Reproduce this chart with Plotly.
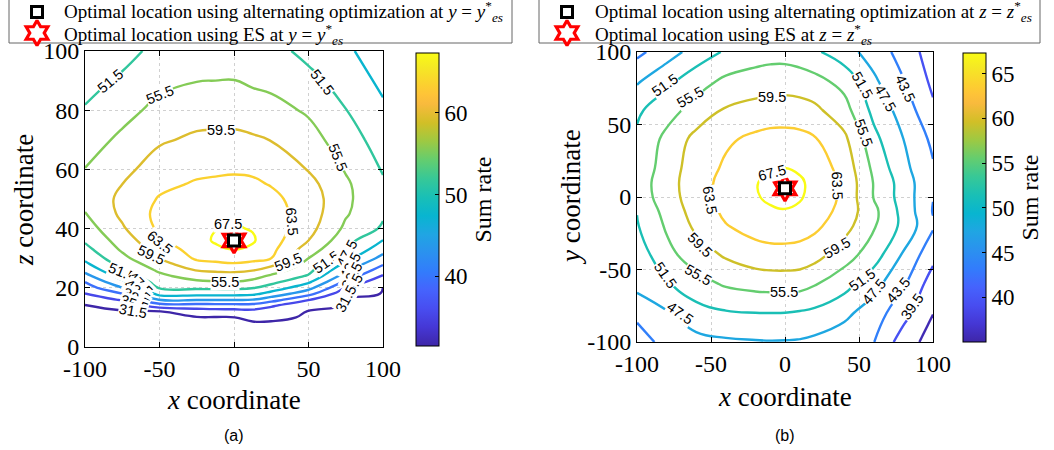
import numpy as np
import plotly.graph_objects as go

W, H = 1054, 450

# ---------------- panel (a): sum rate over the x-z plane at y = y*_es ----------------
x_a = [-100, -75, -50, -25, -12.5, 0, 12.5, 25, 50, 75, 100]
z_a = [0, 5, 8, 10, 12, 14, 16, 18, 20, 22, 24, 26, 28, 30, 33, 36, 40, 45, 50, 55, 60, 70, 80, 90, 100]
# one list per x position, running up the z axis
rate_a_cols = [
    [31.2, 31.22, 31.25, 31.28, 31.3, 31.35, 32.95, 35.4, 37.5, 39.6, 42.3, 44.6, 46.7, 48.3, 50.3, 52.0, 53.5, 55.4, 56.2, 56.3, 55.6, 53.7, 51.8, 50.2, 48.5],
    [31.2, 31.22, 31.25, 31.28, 31.32, 32.4, 36.0, 39.5, 43.5, 46.7, 49.2, 51.5, 52.9, 54.4, 56.1, 57.3, 59.0, 60.3, 60.5, 59.5, 58.4, 56.3, 54.2, 52.1, 50.2],
    [31.2, 31.22, 31.25, 31.3, 31.38, 37.7, 43.8, 48.9, 51.85, 53.25, 54.65, 56.2, 57.8, 59.5, 61.2, 62.9, 64.2, 64.6, 63.8, 62.6, 61.4, 59.0, 56.6, 54.5, 52.6],
    [31.2, 31.22, 31.25, 31.32, 33.3, 37.96, 43.8, 48.9, 52.2, 54.8, 57.3, 59.75, 62.25, 64.1, 65.3, 66.2, 66.5, 66.0, 65.0, 63.9, 62.65, 60.2, 57.8, 55.4, 53.8],
    [31.2, 31.22, 31.25, 31.35, 33.8, 38.1, 43.8, 48.9, 52.24, 55.2, 57.7, 60.2, 62.8, 64.6, 66.8, 67.9, 67.4, 66.4, 65.5, 64.1, 62.93, 60.35, 57.9, 55.5, 54.0],
    [31.2, 31.22, 31.25, 31.45, 34.0, 38.1, 43.8, 48.9, 52.3, 55.4, 57.9, 60.47, 63.2, 65.0, 67.6, 68.6, 67.8, 66.8, 65.5, 64.3, 63.08, 60.4, 57.94, 55.55, 54.2],
    [31.2, 31.22, 31.28, 32.0, 34.4, 38.0, 43.5, 48.5, 51.77, 54.4, 57.1, 59.8, 62.6, 64.5, 66.8, 67.9, 67.3, 66.3, 65.2, 64.1, 62.9, 60.0, 57.35, 54.9, 53.4],
    [31.2, 31.22, 31.28, 31.9, 33.8, 36.0, 41.3, 46.1, 49.8, 52.6, 54.9, 57.7, 60.6, 63.5, 64.6, 65.3, 65.6, 65.2, 64.4, 63.3, 62.0, 59.4, 56.9, 54.4, 52.8],
    [31.2, 31.22, 31.25, 31.3, 31.35, 32.8, 35.8, 40.9, 44.8, 48.2, 51.1, 52.7, 54.1, 55.5, 57.5, 59.5, 60.9, 61.6, 61.7, 60.8, 59.3, 57.1, 54.95, 52.6, 50.4],
    [31.2, 31.22, 31.25, 31.28, 31.3, 31.32, 31.4, 32.8, 35.4, 38.7, 41.7, 44.4, 46.6, 48.8, 51.7, 53.0, 54.7, 55.9, 56.3, 56.1, 55.2, 53.4, 51.6, 49.9, 48.2],
    [31.2, 31.22, 31.25, 31.28, 31.3, 31.32, 31.35, 31.38, 31.42, 32.8, 35.2, 37.5, 39.85, 42.2, 45.0, 47.4, 50.97, 52.0, 52.2, 52.0, 51.2, 49.7, 48.2, 46.6, 45.3],
]
cbar_a = [31.5, 67.3]
opt_a = (0, 36)
# contour labels: text, x, z, rotation (deg, clockwise)
labels_a = [
    ("51.5", -83, 90, -40), ("55.5", -50, 85, -22), ("51.5", 59, 89.5, 52),
    ("59.5", -9, 73.3, 0), ("55.5", 70, 64, 68), ("63.5", 38.7, 42.5, 85),
    ("67.5", -4, 41.5, 0), ("63.5", -50, 35.5, 40), ("59.5", -55.5, 31, 25),
    ("59.5", 36.5, 28.8, -22), ("51.5", -75.5, 25.3, 22), ("55.5", -6, 22.1, 0),
    ("51.5", 62, 28.8, -35),
    ("47.5", -63, 21.2, 45), ("43.5", -65, 18.8, 40), ("39.5", -66, 16.6, 30),
    ("35.5", -67, 14.4, 20), ("31.5", -68, 12.3, 10),
    ("47.5", 75.5, 31.5, -62), ("43.5", 78, 27.5, -62), ("39.5", 79, 24, -62),
    ("35.5", 79.5, 20.3, -62), ("31.5", 75, 16.2, -62),
]

# ---------------- panel (b): sum rate over the x-y plane at z = z*_es ----------------
x_b = [-100, -80, -60, -40, -20, -10, 0, 10, 20, 40, 60, 80, 100]
y_b = [-100, -80, -60, -40, -20, -10, 0, 10, 20, 40, 60, 80, 100]
# one list per y position, running along the x axis
rate_b_rows = [
    [41.5, 44.9, 46.2, 46.9, 47.2, 47.3, 47.25, 47.1, 46.6, 45.3, 43.6, 37.5, 33.8],
    [44.5, 47.1, 50.0, 51.1, 51.45, 51.5, 51.45, 51.1, 50.6, 48.5, 45.4, 41.0, 35.6],
    [48.8, 51.0, 53.9, 56.0, 56.9, 57.1, 57.2, 57.0, 55.8, 53.0, 48.9, 44.0, 37.5],
    [49.2, 54.3, 57.5, 60.0, 61.8, 62.2, 62.2, 62.0, 61.0, 57.3, 53.4, 47.0, 40.7],
    [51.2, 56.0, 60.3, 63.3, 65.0, 65.4, 65.5, 65.2, 64.4, 61.05, 55.9, 50.45, 44.0],
    [51.6, 56.9, 61.1, 64.3, 66.4, 67.0, 67.3, 66.9, 65.6, 62.1, 56.5, 50.2, 43.3],
    [53.0, 57.7, 61.6, 64.6, 67.2, 68.1, 68.4, 67.8, 66.5, 62.6, 55.3, 49.8, 43.6],
    [53.2, 57.9, 61.7, 64.8, 67.3, 68.3, 68.7, 68.0, 66.5, 62.6, 55.3, 49.7, 43.8],
    [52.3, 57.6, 61.4, 64.1, 66.3, 67.1, 67.5, 67.0, 65.8, 62.0, 54.6, 48.6, 43.9],
    [52.2, 56.5, 60.7, 62.9, 64.3, 64.7, 64.8, 64.6, 63.8, 60.4, 52.6, 47.5, 42.6],
    [50.8, 53.9, 57.0, 59.9, 61.0, 61.5, 61.5, 61.2, 60.4, 57.0, 50.4, 45.8, 40.2],
    [47.0, 50.4, 53.8, 56.3, 57.2, 57.5, 57.6, 57.3, 56.7, 54.2, 48.2, 43.7, 38.6],
    [42.5, 45.7, 49.1, 52.0, 53.6, 54.0, 54.0, 53.4, 52.2, 49.1, 45.8, 41.9, 37.5],
]
cbar_b = [35.0, 67.3]
opt_b = (0, 6)
labels_b = [
    ("51.5", -81, 77, -35), ("55.5", -64, 69, -30), ("59.5", -9, 69.2, 0),
    ("51.5", 52, 77, 60), ("47.5", 67.6, 68, 60), ("43.5", 81, 75, 65),
    ("55.5", 53, 44, 70), ("63.5", 35, 8, 88), ("67.5", -9, 16.5, -15),
    ("63.5", -50.7, -2, 80), ("59.5", -57.4, -33, 45), ("59.5", 35, -35.4, -30),
    ("55.5", -58.6, -54, 30), ("51.5", -81, -54, 55), ("55.5", -1, -65.3, 0),
    ("51.5", 52, -57, -35), ("47.5", 60, -65.5, -50), ("43.5", 76.6, -64, -50),
    ("39.5", 85.6, -75.6, -55), ("47.5", -71, -80, 35),
]

levels = [31.5, 35.5, 39.5, 43.5, 47.5, 51.5, 55.5, 59.5, 63.5, 67.5]
tick_xy = [-100, -50, 0, 50, 100]
tick_xy_text = ["-100", "-50", "0", "50", "100"]
tick_a_z = [0, 20, 40, 60, 80, 100]
cbar_ticks_a = [40, 50, 60]
cbar_ticks_b = [40, 45, 50, 55, 60, 65]

# parula colour map, sampled at 64-step indices
parula_idx = [0, 4, 8, 12, 16, 20, 24, 28, 32, 36, 40, 44, 48, 52, 54, 56, 60, 63]
parula_rgb = [
    (62, 38, 168), (69, 55, 213), (72, 77, 240), (69, 99, 253), (50, 124, 252), (43, 145, 239),
    (32, 165, 227), (8, 181, 208), (25, 191, 182), (55, 200, 151), (100, 205, 111), (157, 201, 67),
    (209, 191, 39), (248, 186, 61), (254, 195, 56), (252, 207, 48), (245, 233, 36), (249, 251, 21),
]
parula = [[i / 63, "rgb(%d,%d,%d)" % c] for i, c in zip(parula_idx, parula_rgb)]


def level_color(v, lo, hi):
    t = min(max((v - lo) / (hi - lo), 0.0), 1.0) * 63
    pos = np.array(parula_idx, dtype=float)
    rgb = np.array(parula_rgb, dtype=float)
    r, g, b = (np.interp(t, pos, rgb[:, k]) for k in range(3))
    return "rgb(%d,%d,%d)" % (round(r), round(g), round(b))


SERIF = "Liberation Serif"
SANS = "Liberation Sans"


def fx(p):
    return p / W


def fy(p):
    return 1 - p / H


fig = go.Figure()

z_grid_a = np.array(rate_a_cols).T
z_grid_b = np.array(rate_b_rows)
cb_thick = 23


def add_panel(xs, ys, zz, cb, xa, ya, cb_left, cb_top, cb_bot, cb_ticks):
    # transparent heatmap only supplies the continuous colour bar
    fig.add_trace(go.Heatmap(
        x=xs, y=ys, z=zz, zmin=cb[0], zmax=cb[1], colorscale=parula, opacity=0,
        hoverinfo="skip", xaxis=xa, yaxis=ya,
        colorbar=dict(
            x=fx(cb_left), xanchor="left", xpad=0, ypad=0,
            y=fy((cb_top + cb_bot) / 2), yanchor="middle",
            len=(cb_bot - cb_top) / H, lenmode="fraction",
            thickness=cb_thick, thicknessmode="pixels",
            outlinewidth=1, outlinecolor="black",
            tickvals=cb_ticks, ticks="inside", ticklen=4, tickcolor="black",
            tickfont=dict(family=SERIF, size=23, color="black"),
            title=dict(text="Sum rate", side="right", font=dict(family=SERIF, size=24, color="black")),
        ),
    ))
    # one trace per level so each line takes the colour of its value on the bar
    for lev in levels:
        fig.add_trace(go.Contour(
            x=xs, y=ys, z=zz, showscale=False, autocontour=False,
            contours=dict(coloring="none", showlabels=False, start=lev, end=lev, size=1),
            line=dict(width=2.4, smoothing=1.3, color=level_color(lev, cb[0], cb[1])),
            hoverinfo="skip", xaxis=xa, yaxis=ya,
        ))


add_panel(x_a, z_a, z_grid_a, cbar_a, "x", "y", 416, 53, 346, cbar_ticks_a)
add_panel(x_b, y_b, z_grid_b, cbar_b, "x2", "y2", 963, 53, 342, cbar_ticks_b)

# optimal locations: ES (hexagram) under alternating optimisation (square)
for (ox, oy), xa, ya in [(opt_a, "x", "y"), (opt_b, "x2", "y2")]:
    fig.add_trace(go.Scatter(x=[ox], y=[oy], mode="markers", xaxis=xa, yaxis=ya, hoverinfo="skip",
                             marker=dict(symbol="hexagram", size=19, color="white",
                                         line=dict(color="red", width=3.2))))
    fig.add_trace(go.Scatter(x=[ox], y=[oy], mode="markers", xaxis=xa, yaxis=ya, hoverinfo="skip",
                             marker=dict(symbol="square", size=11, color="white",
                                         line=dict(color="black", width=3))))

# legend markers on a full-page pixel overlay
for lx in (37, 567):
    fig.add_trace(go.Scatter(x=[lx], y=[33], mode="markers", xaxis="x3", yaxis="y3", hoverinfo="skip",
                             marker=dict(symbol="hexagram", size=19, color="white",
                                         line=dict(color="red", width=3.2))))
    fig.add_trace(go.Scatter(x=[lx], y=[12], mode="markers", xaxis="x3", yaxis="y3", hoverinfo="skip",
                             marker=dict(symbol="square", size=11, color="white",
                                         line=dict(color="black", width=3))))

axis_common = dict(
    showline=True, linecolor="black", linewidth=1, mirror="ticks",
    ticks="inside", ticklen=5, tickcolor="black",
    showgrid=True, gridcolor="rgba(150,150,150,0.45)", griddash="dot", gridwidth=1,
    zeroline=False, tickfont=dict(family=SERIF, size=24, color="black"),
)

fig.update_layout(
    width=W, height=H, margin=dict(l=0, r=0, t=0, b=0, autoexpand=False),
    paper_bgcolor="white", plot_bgcolor="rgba(0,0,0,0)", showlegend=False,
    xaxis=dict(domain=[fx(85), fx(383)], range=[-100, 100], tickvals=tick_xy, ticktext=tick_xy_text,
               anchor="y", **axis_common),
    yaxis=dict(domain=[fy(347), fy(51)], range=[0, 100], tickvals=tick_a_z, anchor="x", **axis_common),
    xaxis2=dict(domain=[fx(637), fx(933)], range=[-100, 100], tickvals=tick_xy, ticktext=tick_xy_text,
                anchor="y2", **axis_common),
    yaxis2=dict(domain=[fy(342), fy(52)], range=[-100, 100], tickvals=tick_xy, ticktext=tick_xy_text,
                anchor="x2", **axis_common),
    xaxis3=dict(domain=[0, 1], range=[0, W], visible=False, anchor="y3"),
    yaxis3=dict(domain=[0, 1], range=[H, 0], visible=False, anchor="x3"),
)

# legend frames
for x0, x1 in ((9, 512), (539, 1040)):
    fig.add_shape(type="rect", xref="paper", yref="paper", x0=fx(x0), x1=fx(x1), y0=fy(43), y1=fy(-4),
                  line=dict(color="#666666", width=1), fillcolor="rgba(0,0,0,0)", layer="below")

ann = []
# contour level labels sitting on their lines
for labels, xr, yr in ((labels_a, "x", "y"), (labels_b, "x2", "y2")):
    for txt, lx, ly, ang in labels:
        ann.append(dict(x=lx, y=ly, xref=xr, yref=yr, text=txt, textangle=ang,
                        font=dict(family=SANS, size=14.5, color="black"),
                        bgcolor="white", borderpad=0, showarrow=False))

legend_font = dict(family=SERIF, size=19, color="black")
for lx, var in ((62, "y"), (593, "z")):
    ann.append(dict(x=fx(lx), y=fy(12), xanchor="left", yanchor="middle", align="left",
                    text=f"Optimal location using alternating optimization at <i>{var}</i> = <i>{var}</i><sup>*</sup><sub><i>es</i></sub>",
                    font=legend_font, xref="paper", yref="paper", showarrow=False))
    ann.append(dict(x=fx(lx), y=fy(34), xanchor="left", yanchor="middle", align="left",
                    text=f"Optimal location using ES at <i>{var}</i> = <i>{var}</i><sup>*</sup><sub><i>es</i></sub>",
                    font=legend_font, xref="paper", yref="paper", showarrow=False))

title_font = dict(family=SERIF, size=27, color="black")
for a in [
    dict(x=fx(234), y=fy(400), text="<i>x</i> coordinate", font=title_font),
    dict(x=fx(785), y=fy(397), text="<i>x</i> coordinate", font=title_font),
    dict(x=fx(24), y=fy(200), text="<i>z</i> coordinate", font=title_font, textangle=-90),
    dict(x=fx(571), y=fy(197), text="<i>y</i> coordinate", font=title_font, textangle=-90),
    dict(x=fx(234), y=fy(435), text="(a)", font=dict(family=SANS, size=16, color="black")),
    dict(x=fx(785), y=fy(435), text="(b)", font=dict(family=SANS, size=16, color="black")),
]:
    a.update(xref="paper", yref="paper", showarrow=False, xanchor="center", yanchor="middle")
    ann.append(a)
fig.update_layout(annotations=ann)

fig.write_html("out.html")
